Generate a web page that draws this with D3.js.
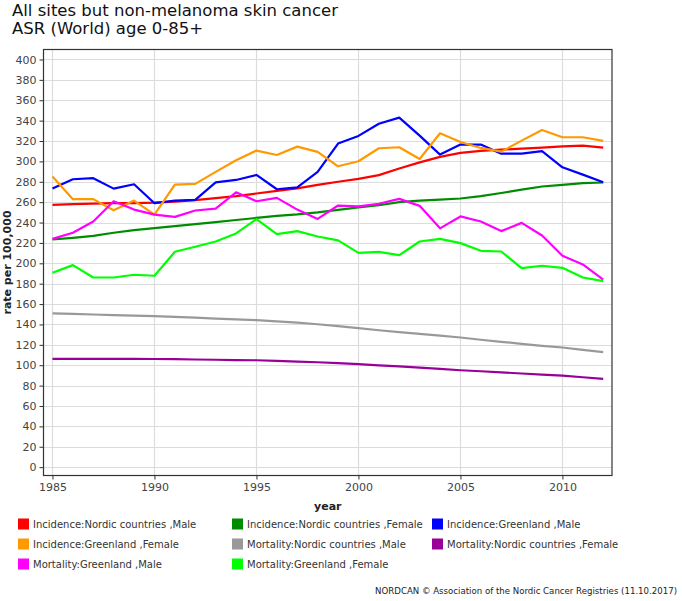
<!DOCTYPE html>
<html>
<head>
<meta charset="utf-8">
<script src="https://cdn.jsdelivr.net/npm/d3@7"></script>
<style>
  body { margin: 0; background: #fff; }
  svg { display: block; }
  text { font-family: "DejaVu Sans", Verdana, sans-serif; }
</style>
</head>
<body>
<div id="chart"></div>
<script>
const years = d3.range(1985, 2013);
const seriesNames = [
  "Incidence:Nordic countries ,Male",
  "Incidence:Nordic countries ,Female",
  "Incidence:Greenland ,Male",
  "Incidence:Greenland ,Female",
  "Mortality:Nordic countries ,Male",
  "Mortality:Nordic countries ,Female",
  "Mortality:Greenland ,Male",
  "Mortality:Greenland ,Female"
];
const seriesColors = ["#ff0000", "#008c00", "#0000ff", "#ff9900", "#999999", "#990099", "#ff00ff", "#00ff00"];

const incNordicMale = [257.3, 258, 258.5, 259, 259, 259.5, 260.5, 262, 264, 266, 268.5, 271, 273.5, 277, 280, 282.8, 286.5, 293, 299, 304.5, 308.3, 310.3, 311.6, 312.5, 313.5, 314.8, 315.5, 313.5];
const incNordicFemale = [223.4, 225, 227, 230, 232.5, 234.5, 236.5, 238.5, 240.5, 242.5, 244.5, 246.5, 248, 250, 252.5, 254.8, 257, 260, 261.5, 262.5, 263.6, 266, 269, 272.3, 275.4, 277, 278.6, 279.3];
const incGreenlandMale = [273.3, 282.5, 283.5, 273.3, 277.6, 259, 261.6, 262.2, 279.5, 281.8, 286.7, 272.7, 274.6, 289.7, 317.5, 325, 337, 343, 325.3, 306.7, 316.5, 316.5, 307.6, 307.6, 310, 294.2, 287, 279.5];
const incGreenlandFemale = [285.1, 262.9, 263, 252, 261.6, 247.8, 277.3, 277.9, 289.7, 301.1, 310.6, 306.3, 314.5, 309.3, 295.2, 300.1, 312.9, 313.9, 302.4, 327.6, 319.1, 313.2, 309.6, 320.4, 330.8, 323.7, 323.7, 320.1];
const morNordicMale = [150.8, 150.3, 149.8, 149.2, 148.7, 148.2, 147.5, 146.7, 145.8, 145, 144.3, 143, 141.8, 140.2, 138.4, 136.4, 134.3, 132.5, 130.8, 129, 127.2, 125, 123, 121, 119, 117.4, 115, 112.8];
const morNordicFemale = [106.2, 106.3, 106.3, 106.3, 106.2, 106.1, 105.9, 105.6, 105.4, 105.1, 104.9, 104.3, 103.6, 102.9, 102, 101, 99.9, 98.8, 97.6, 96.4, 95.1, 94.1, 93, 91.9, 90.8, 89.8, 88.2, 86.6];
const morGreenlandMale = [224, 230, 241, 260.9, 252.7, 247.8, 245.6, 251.8, 253.7, 269.7, 260.9, 264.2, 252.7, 243.6, 256.7, 255.8, 258.4, 263.2, 256.4, 234.3, 246, 241, 231.6, 239.7, 227.3, 207.4, 198.9, 183.9];
const morGreenlandFemale = [190.7, 198.2, 186.1, 186.1, 188.8, 187.8, 211.3, 216.2, 221.4, 229.3, 243.3, 228.6, 231.6, 226.3, 222.5, 210.3, 211.3, 208, 221.4, 224, 219.8, 212.3, 211.6, 195.3, 197.6, 195.6, 186.1, 182.5];

const seriesValues = [incNordicMale, incNordicFemale, incGreenlandMale, incGreenlandFemale,
  morNordicMale, morNordicFemale, morGreenlandMale, morGreenlandFemale];

const yTicks = d3.range(0, 401, 20);
const xTicks = [1985, 1990, 1995, 2000, 2005, 2010];
const titleLines = ["All sites but non-melanoma skin cancer", "ASR (World) age 0-85+"];
const xLabel = "year";
const yLabel = "rate per 100,000";
const credit = "NORDCAN \u00A9 Association of the Nordic Cancer Registries (11.10.2017)";

const W = 682, H = 601;
const plot = { left: 43.5, right: 612, top: 49.5, bottom: 475.5 };

const svg = d3.select("#chart").append("svg").attr("width", W).attr("height", H);

const x = d3.scaleLinear().domain([1984.56, 2012.43]).range([plot.left, plot.right]);
const y = d3.scaleLinear().domain([-8.2, 409.8]).range([plot.bottom, plot.top]);

// title
svg.append("g").selectAll("text").data(titleLines).join("text")
  .attr("x", 12).attr("y", (d, i) => 15.5 + i * 18)
  .attr("font-size", 16.5).attr("fill", "#111").text(d => d);

// gridlines
svg.append("g").selectAll("line").data(yTicks).join("line")
  .attr("x1", plot.left).attr("x2", plot.right)
  .attr("y1", d => Math.round(y(d)) + 0.5).attr("y2", d => Math.round(y(d)) + 0.5)
  .attr("stroke", "#dcdcdc").attr("stroke-width", 1.2);
svg.append("g").selectAll("line").data(xTicks).join("line")
  .attr("y1", plot.top).attr("y2", plot.bottom)
  .attr("x1", d => Math.round(x(d)) + 0.5).attr("x2", d => Math.round(x(d)) + 0.5)
  .attr("stroke", "#dcdcdc").attr("stroke-width", 1.2);

// axes
const yAxis = d3.axisLeft(y).tickValues(yTicks).tickSize(4).tickPadding(3);
const gy = svg.append("g").attr("transform", `translate(${plot.left},0)`).call(yAxis);
gy.select(".domain").remove();
gy.selectAll("line").attr("stroke", "#333");
gy.selectAll("text").attr("font-size", 11).attr("fill", "#444")
  .attr("font-family", "DejaVu Sans, sans-serif");

const xAxis = d3.axisBottom(x).tickValues(xTicks).tickFormat(d3.format("d")).tickSize(4).tickPadding(4);
const gx = svg.append("g").attr("transform", `translate(0,${plot.bottom})`).call(xAxis);
gx.select(".domain").remove();
gx.selectAll("line").attr("stroke", "#333");
gx.selectAll("text").attr("font-size", 11).attr("fill", "#444")
  .attr("font-family", "DejaVu Sans, sans-serif");

// frame
svg.append("rect").attr("x", plot.left).attr("y", plot.top)
  .attr("width", plot.right - plot.left).attr("height", plot.bottom - plot.top)
  .attr("fill", "none").attr("stroke", "#333").attr("stroke-width", 1.2);

// axis labels
svg.append("text").attr("x", (plot.left + plot.right) / 2).attr("y", 510)
  .attr("text-anchor", "middle").attr("font-size", 11).attr("font-weight", "bold")
  .attr("fill", "#222").text(xLabel);
svg.append("text").attr("transform", `translate(11,${(plot.top + plot.bottom) / 2}) rotate(-90)`)
  .attr("text-anchor", "middle").attr("font-size", 11).attr("font-weight", "bold")
  .attr("fill", "#222").text(yLabel);

// lines
const line = d3.line().x((d, i) => x(years[i])).y(d => y(d));
svg.append("g").selectAll("path").data(seriesValues).join("path")
  .attr("d", d => line(d))
  .attr("fill", "none")
  .attr("stroke", (d, i) => seriesColors[i])
  .attr("stroke-width", 2.2)
  .attr("stroke-linejoin", "round");

// legend
const legCols = [18, 232, 432];
const legRows = [524, 544, 564];
const leg = svg.append("g").selectAll("g").data(seriesNames).join("g")
  .attr("transform", (d, i) => `translate(${legCols[i % 3]},${legRows[Math.floor(i / 3)]})`);
leg.append("rect").attr("x", 0).attr("y", -5.5).attr("width", 11).attr("height", 11)
  .attr("fill", (d, i) => seriesColors[i]);
leg.append("text").attr("x", 15).attr("y", 3.5).attr("font-size", 10).attr("fill", "#333")
  .text(d => d);

// credit
svg.append("text").attr("x", 677).attr("y", 594).attr("text-anchor", "end")
  .attr("font-family", "Liberation Sans, Arial, sans-serif")
  .attr("font-size", 8.6).attr("fill", "#222")
  .text(credit);
</script>
</body>
</html>
